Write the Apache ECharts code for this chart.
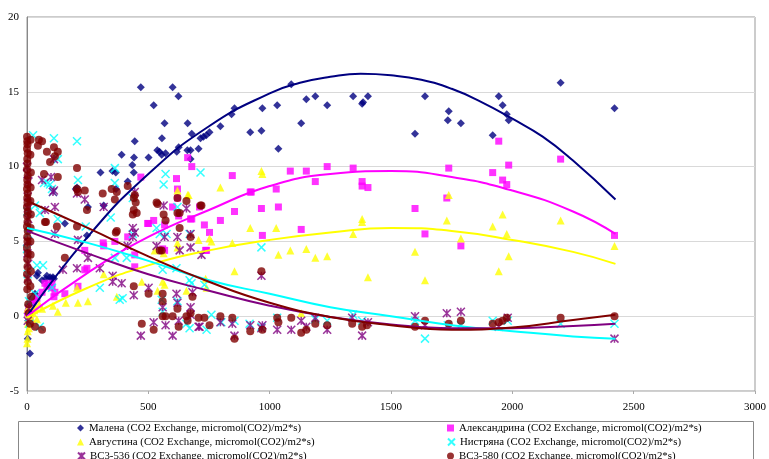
<!DOCTYPE html>
<html><head><meta charset="utf-8">
<script src="https://cdn.jsdelivr.net/npm/echarts@6/dist/echarts.min.js"></script>
<style>html,body{margin:0;padding:0;background:#fff}#c{width:769px;height:459px}</style>
</head><body><div id="c"></div>
<script>
const xTicks = [0, 500, 1000, 1500, 2000, 2500, 3000];
const yTicks = [-5, 0, 5, 10, 15, 20];
const seriesNames = [
  "Малена (CO2 Exchange, micromol(CO2)/m2*s)",
  "Александрина (CO2 Exchange, micromol(CO2)/m2*s)",
  "Августина (CO2 Exchange, micromol(CO2)/m2*s)",
  "Нистряна (CO2 Exchange, micromol(CO2)/m2*s)",
  "ВС3-536 (CO2 Exchange, micromol(CO2)/m2*s)",
  "ВС3-580 (CO2 Exchange, micromol(CO2)/m2*s)"
];
const malena = [[2,0.2],[5,-0.3],[8,0.5],[3,-1.5],[12,-2.5],[15,0.8],[20,1.2],[10,0.3],[25,0.9],[33,1.5],[41,2.7],[45,2.9],[62,2.4],[78,2.5],[82,2.7],[95,2.6],[103,2.5],[107,2.6],[111,2.5],
[156,6.2],[201,8.5],[206,8.6],[247,5.4],[251,7.3],[303,9.6],[316,7.4],[352,9.7],[366,9.6],[367,8.5],[390,10.8],[415,9.0],[434,10.1],[440,9.6],[441,10.6],[444,11.7],[469,15.3],[501,10.6],[522,14.1],[537,11.1],[546,11.0],[555,10.8],[556,11.9],[567,12.9],[571,10.9],[600,15.3],[617,11.0],[624,14.7],[625,11.3],[661,11.1],[662,12.9],[674,11.1],[674,10.5],[679,12.2],[707,11.2],[715,11.9],[727,12.0],[739,12.1],[752,12.3],[797,12.7],[843,13.5],[855,13.9],[920,12.3],[966,12.4],[970,13.9],[1031,14.1],[1036,11.2],[1089,15.5],[1130,12.9],[1151,14.5],[1188,14.7],[1237,14.1],[1344,14.7],[1381,14.2],[1385,14.3],[1405,14.7],[1599,12.2],[1640,14.7],[1734,13.1],[1738,13.7],[1788,12.9],[1919,12.1],[1944,14.7],[1960,14.1],[1977,13.5],[1985,13.1],[2199,15.6],[2421,13.9]];
const aleksandrina = [[3,0.2],[8,0.5],[12,-0.3],[18,0.8],[25,1.0],[33,1.2],[41,1.2],[62,1.6],[74,2.2],[82,2.0],[90,2.1],[103,1.9],[103,2.2],[111,1.3],[115,1.6],[156,1.5],[210,2.0],[238,3.1],[238,4.4],[247,3.2],[314,4.9],[316,4.7],[362,5.0],[415,5.3],[444,3.3],[444,4.1],[469,9.3],[497,6.2],[501,6.2],[522,6.4],[559,4.5],[567,6.1],[567,4.4],[600,7.3],[616,9.2],[620,8.5],[620,7.9],[625,6.7],[662,10.6],[674,6.5],[679,10.0],[679,6.5],[711,7.3],[731,6.1],[736,4.4],[740,4.4],[752,5.6],[797,6.4],[846,9.4],[855,7.0],[920,8.3],[924,8.3],[966,7.2],[970,5.4],[1027,8.5],[1036,7.3],[1085,9.7],[1130,5.8],[1151,9.7],[1188,9.0],[1237,10.0],[1344,9.9],[1381,9.0],[1381,8.7],[1405,8.6],[1599,7.2],[1640,5.5],[1730,7.9],[1738,9.9],[1788,4.7],[1919,9.6],[1944,11.7],[1960,9.1],[1977,8.8],[1985,10.1],[2199,10.5],[2421,5.4]];
const avgustina = [[0,-1.8],[2,-1.5],[3,-1.0],[4,-0.5],[5,-0.2],[6,0.2],[2,0.5],[8,-0.8],[10,0.1],[12,-0.4],[15,0.3],[18,-0.1],[20,0.5],[25,0.2],[30,0.4],[35,0.6],[41,-0.2],[50,0.8],[62,0.5],[107,0.7],[127,0.3],[160,0.9],[206,1.9],[210,0.9],[251,1.0],[316,2.8],[370,1.3],[473,2.3],[526,4.4],[538,1.7],[559,2.3],[563,4.2],[567,2.1],[620,4.6],[620,4.9],[620,8.4],[657,1.7],[662,8.1],[666,8.1],[707,5.1],[736,2.5],[740,1.9],[752,5.2],[760,5.0],[797,8.6],[846,4.9],[855,3.0],[920,5.9],[966,9.7],[970,9.5],[1027,5.9],[1036,4.1],[1085,4.4],[1130,0.2],[1151,4.5],[1188,3.9],[1237,4.0],[1344,5.5],[1381,6.5],[1381,6.3],[1405,2.6],[1599,4.3],[1640,2.4],[1730,6.4],[1738,8.1],[1788,5.2],[1919,6.0],[1944,3.0],[1960,6.8],[1977,5.5],[1985,4.0],[2199,6.4],[2421,4.7]];
const nistryana = [[0,4.5],[2,7.0],[3,2.8],[5,5.5],[8,1.0],[10,-0.5],[25,12.1],[33,7.4],[33,1.5],[41,3.4],[53,6.9],[53,-0.7],[66,3.4],[70,8.9],[86,8.9],[95,8.8],[103,8.5],[103,1.9],[107,8.3],[111,11.9],[127,10.5],[127,6.5],[206,11.7],[210,9.1],[242,6.0],[300,1.9],[345,6.6],[362,9.9],[362,8.9],[362,3.9],[382,1.1],[394,1.2],[411,3.9],[436,7.9],[436,5.5],[534,5.9],[547,5.5],[555,1.1],[559,3.1],[559,0.3],[563,8.8],[571,9.5],[575,5.5],[616,3.2],[620,7.3],[620,1.0],[657,-0.5],[670,5.5],[670,2.4],[670,-0.8],[678,2.2],[715,9.6],[731,2.1],[740,-0.9],[760,0.1],[801,-0.4],[855,-0.3],[917,-0.5],[966,4.6],[966,-0.7],[1031,-0.1],[1188,-0.2],[1237,-0.3],[1344,0.1],[1381,-0.3],[1599,-0.3],[1640,-1.5],[1734,-0.6],[1788,-0.6],[1919,-0.3],[1981,-0.3],[2199,-0.5],[2421,-0.5]];
const vs536 = [[0,10.0],[2,9.5],[3,8.0],[4,7.2],[5,6.5],[3,5.0],[2,4.2],[5,3.5],[4,2.5],[6,9.0],[3,-0.3],[8,0.5],
[62,9.1],[74,7.1],[99,9.3],[107,8.3],[111,10.5],[111,8.4],[115,7.3],[115,5.5],[148,3.1],[206,8.2],[206,3.2],[210,5.1],[238,7.8],[251,3.9],[300,3.2],[316,7.3],[353,2.7],[353,2.3],[390,2.2],[415,4.7],[436,5.9],[436,5.3],[440,1.4],[444,8.3],[444,5.6],[469,-1.3],[501,1.9],[522,-0.4],[534,4.7],[559,0.6],[563,7.4],[567,5.3],[571,-0.6],[600,-1.3],[616,1.5],[620,5.3],[620,0.9],[625,-0.3],[629,4.4],[657,7.2],[674,5.5],[674,4.6],[674,0.6],[674,0.1],[682,1.6],[707,-0.7],[711,-0.7],[719,4.1],[797,-0.4],[846,-0.5],[855,-1.3],[920,-0.6],[966,2.7],[966,-0.8],[970,-0.6],[1031,-0.9],[1089,-0.9],[1130,-0.3],[1151,-0.7],[1188,-0.1],[1237,-0.9],[1340,-0.1],[1381,-1.3],[1405,-0.4],[1599,0.0],[1640,-0.6],[1730,0.2],[1788,0.3],[1944,-0.7],[1981,-0.1],[2421,-1.5]];
const vs580 = [[0,12.0],[1,11.7],[2,11.5],[0,11.2],[3,10.9],[1,10.5],[2,10.2],[0,9.8],[3,9.4],[1,9.1],[2,8.8],[0,8.5],[3,8.2],[1,7.9],[2,7.6],[0,7.3],[3,7.0],[1,6.7],[2,6.3],[0,6.0],[3,5.7],[1,5.3],[2,5.0],[0,4.6],[3,4.2],[1,3.8],[2,3.3],[0,2.8],[3,2.3],[1,1.8],[5,0.8],[8,0.2],[12,-0.5],
[15,11.8],[14,10.8],[16,9.6],[15,8.6],[14,7.7],[16,6.8],[15,5.9],[14,5.0],[15,4.1],[16,3.0],[14,2.0],[18,1.3],
[33,-0.7],[45,11.4],[49,11.8],[62,11.7],[62,-0.9],[70,9.5],[74,6.3],[78,6.3],[82,11.0],[95,10.3],[111,11.3],[115,10.7],[123,6.0],[127,11.0],[127,9.3],[156,3.9],[206,9.9],[206,8.5],[206,6.0],[210,8.3],[238,8.4],[247,7.1],[312,8.2],[349,8.5],[362,7.8],[366,5.6],[370,8.3],[370,5.7],[415,8.7],[436,6.8],[440,7.9],[440,7.1],[440,2.0],[444,8.1],[448,7.6],[452,6.9],[473,-0.5],[501,1.5],[522,-0.9],[534,7.6],[538,7.5],[547,4.4],[555,4.4],[559,1.5],[559,1.0],[559,0.0],[563,6.8],[571,6.4],[571,0.0],[600,0.0],[620,7.9],[620,6.9],[620,0.5],[625,-0.7],[629,5.9],[629,6.9],[657,7.7],[657,0.0],[662,-0.3],[674,5.3],[674,0.2],[682,1.3],[707,-0.1],[715,7.4],[719,7.4],[731,-0.1],[752,-0.6],[797,0.0],[846,-0.1],[855,-1.5],[920,-1.0],[966,3.0],[970,-0.9],[1031,-0.1],[1036,-0.4],[1089,-0.1],[1130,-1.1],[1151,-0.9],[1188,-0.5],[1237,-0.6],[1340,-0.5],[1381,-0.7],[1401,-0.6],[1599,-0.7],[1640,-0.3],[1738,-0.5],[1788,-0.3],[1919,-0.5],[1944,-0.4],[1960,-0.3],[1977,-0.1],[2199,-0.1],[2421,0.0]];

// trend lines
const trendX = [0, 250, 500, 750, 1000, 1250, 1500, 1750, 2000, 2250, 2425];
const trendMalenaX = [0, 250, 500, 750, 1000, 1125, 1250, 1375, 1500, 1625, 1750, 1875, 2000, 2125, 2250, 2425];
const trendMalena = [0, 5.3, 9.5, 12.7, 14.9, 15.6, 16.0, 16.2, 16.1, 15.8, 15.2, 14.3, 13.2, 12.0, 10.4, 7.8];
const trendAleks = [0, 2.9, 5.3, 7.1, 8.7, 9.5, 9.7, 9.3, 8.4, 7.0, 5.5];
const trendAvg = [-0.1, 1.9, 3.4, 4.4, 5.1, 5.6, 5.9, 5.7, 5.1, 4.3, 3.5];
const trendNist = [5.9, 4.9, 3.7, 2.4, 1.5, 0.6, 0.0, -0.6, -1.0, -1.35, -1.5];
const trend536 = [5.7, 4.2, 2.8, 1.7, 0.7, -0.05, -0.55, -0.8, -0.8, -0.65, -0.5];
const trend580 = [7.7, 5.9, 4.0, 2.3, 0.9, -0.05, -0.6, -0.9, -0.75, -0.25, 0.1];

const colors = ['#000080', '#FF00FF', '#FFFF00', '#00FFFF', '#800080', '#800000'];
const symbols = ['diamond', 'rect', 'triangle', 'path://M0,0L10,10M10,0L0,10', 'path://M0,0L10,10M10,0L0,10M5,0L5,10', 'circle'];
const sizes = [8, 7, 8, 8, 8, 8];
const datasets = [malena, aleksandrina, avgustina, nistryana, vs536, vs580];
const trends = [[trendMalenaX, trendMalena], [trendX, trendAleks], [trendX, trendAvg], [trendX, trendNist], [trendX, trend536], [trendX, trend580]];

const series = [];
datasets.forEach((d, i) => {
  const stroke = (i === 3 || i === 4);
  series.push({
    name: seriesNames[i], type: 'scatter', data: d, symbol: symbols[i], symbolSize: sizes[i],
    itemStyle: stroke ? {color: 'rgba(0,0,0,0)', borderColor: colors[i], borderWidth: 1.5} : {color: colors[i]},
    z: 2 + i
  });
});
trends.forEach((t, i) => {
  series.push({
    name: 'trend' + i, type: 'line', data: t[0].map((x, k) => [x, t[1][k]]), smooth: 0.5,
    showSymbol: false, symbol: 'none', lineStyle: {color: colors[i], width: 2}, z: 20, silent: true
  });
});

const font = 'Liberation Serif';
const legendPos = [[77, 421.5], [447, 421.5], [77, 435.5], [447, 435.5], [77, 449.5], [447, 449.5]];
const legends = seriesNames.map((n, i) => ({
  data: [n], orient: 'horizontal', left: legendPos[i][0], top: legendPos[i][1], padding: 0,
  itemWidth: 7, itemHeight: 7, itemGap: 0, selectedMode: false,
  textStyle: {fontFamily: font, fontSize: 10.8, color: '#000', lineHeight: 13}
}));

const chart = echarts.init(document.getElementById('c'), null, {renderer: 'canvas'});
chart.setOption({
  animation: false,
  backgroundColor: '#fff',
  grid: {left: 27, right: 12, top: 17, bottom: 68, show: true, borderColor: '#999', borderWidth: 1, backgroundColor: 'transparent'},
  xAxis: [{
    type: 'value', min: 0, max: 3000, interval: 500, position: 'bottom',
    axisLine: {show: false}, axisTick: {show: false}, splitLine: {show: false},
    axisLabel: {color: '#000', fontFamily: font, fontSize: 11, margin: 11, formatter: v => xTicks.includes(v) ? String(v) : ''}
  }, {
    type: 'value', min: 0, max: 3000, interval: 500, position: 'bottom',
    axisLine: {show: true, onZero: true, lineStyle: {color: '#d0d0d0', width: 1}},
    axisTick: {show: true, length: 3, lineStyle: {color: '#aaa'}}, axisLabel: {show: false}, splitLine: {show: false}
  }],
  yAxis: {
    type: 'value', min: -5, max: 20, interval: 5,
    axisLine: {show: true, onZero: false, lineStyle: {color: '#888'}}, axisTick: {show: false},
    splitLine: {show: true, lineStyle: {color: '#d9d9d9', width: 1}},
    axisLabel: {color: '#000', fontFamily: font, fontSize: 11, margin: 8, formatter: v => yTicks.includes(v) ? String(v) : ''}
  },
  legend: legends,
  graphic: [{type: 'rect', shape: {x: 18.5, y: 421.5, width: 735, height: 60}, style: {fill: 'none', stroke: '#888', lineWidth: 1}, silent: true, z: -1}],
  series: series
});
</script></body></html>
